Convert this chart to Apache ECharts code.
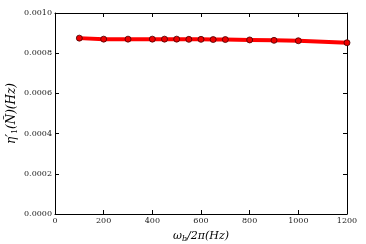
<!DOCTYPE html>
<html><head><meta charset="utf-8">
<script src="https://cdn.jsdelivr.net/npm/echarts@6/dist/echarts.min.js"></script>
<style>html,body{margin:0;padding:0;background:#fff}#c{width:366px;height:244px}</style>
</head><body><div id="c"></div>
<script>
const freqs = [100, 200, 300, 400, 450, 500, 550, 600, 650, 700, 800, 900, 1000, 1200];
const etaValues = [0.000875, 0.000870, 0.000870, 0.000870, 0.000870, 0.000870, 0.000869, 0.000869, 0.000868, 0.000868, 0.000866, 0.000864, 0.000862, 0.000852];
const xTicks = [0, 200, 400, 600, 800, 1000, 1200];
const yTicks = [0, 0.0002, 0.0004, 0.0006, 0.0008, 0.0010];

const chart = echarts.init(document.getElementById('c'), null, {renderer: 'canvas'});
const font = 'DejaVu Serif';
function axisCommon() {
  return {
    axisLine: {show: true, onZero: false, lineStyle: {color: '#000', width: 1}},
    axisTick: {show: true, inside: true, length: 4, lineStyle: {color: '#000'}},
    splitLine: {show: false}
  };
}
chart.setOption({
  animation: false,
  grid: {left: 55, right: 19, top: 13, bottom: 30, containLabel: false, outerBoundsMode: 'none'},
  xAxis: [
    Object.assign({type: 'value', min: 0, max: 1200, interval: 200, position: 'bottom',
      axisLabel: {fontFamily: font, fontSize: 8, color: '#222', margin: 3,
        formatter: v => String(v)},
      name: '{i|ω}{s|b}{i|/2π(Hz)}', nameLocation: 'middle', nameGap: 15,
      nameTextStyle: {rich: {
        i: {fontFamily: font, fontStyle: 'italic', fontSize: 11, color: '#000'},
        s: {fontFamily: font, fontStyle: 'italic', fontSize: 8, color: '#000', padding: [6,0,0,0]}
      }}
    }, axisCommon()),
    Object.assign({type: 'value', min: 0, max: 1200, interval: 200, position: 'top',
      axisLabel: {show: false}}, axisCommon())
  ],
  yAxis: [
    Object.assign({type: 'value', min: 0, max: 0.001, interval: 0.0002, position: 'left',
      axisLabel: {fontFamily: font, fontSize: 8, color: '#222', margin: 3,
        formatter: v => v.toFixed(4)},
      name: '{i|η′}{s|1}{i|(Ñ)(Hz)}', nameLocation: 'middle', nameGap: 36,
      nameMoveOverlap: false,
      nameTextStyle: {rich: {
        i: {fontFamily: font, fontStyle: 'italic', fontSize: 12, color: '#000'},
        s: {fontFamily: font, fontSize: 8, color: '#000', padding: [7,0,0,0]}
      }}
    }, axisCommon()),
    Object.assign({type: 'value', min: 0, max: 0.001, interval: 0.0002, position: 'right',
      axisLabel: {show: false}}, axisCommon())
  ],
  series: [{
    type: 'line',
    data: freqs.map((f, i) => [f, etaValues[i]]),
    lineStyle: {color: '#ff0000', width: 4},
    itemStyle: {color: '#ee0000', borderColor: '#440000', borderWidth: 0.8},
    symbol: 'circle', symbolSize: 6, showSymbol: true,
    clip: true
  }]
});
</script></body></html>
